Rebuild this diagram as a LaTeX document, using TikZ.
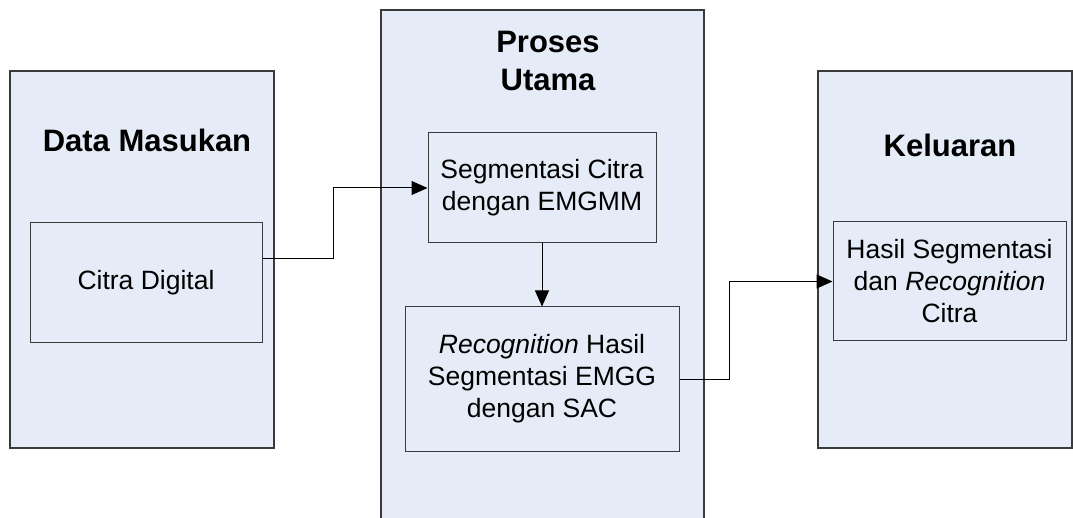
\documentclass[tikz,border=0pt]{standalone}
\usepackage{fontspec}
\setmainfont{Liberation Sans}
\usepackage{xcolor}
\definecolor{birumuda}{HTML}{E6ECF7}
\definecolor{garis}{HTML}{3A3A3A}
\usetikzlibrary{arrows.meta}

\begin{document}
\begin{tikzpicture}[
  x=1pt,y=1pt,
  every node/.style={font=\fontsize{26.5}{32}\selectfont},
  panel/.style={draw=garis,fill=birumuda,line width=1.1pt,inner sep=0pt},
  kotak/.style={draw=garis,fill=birumuda,line width=1pt,align=center,inner sep=0pt},
  judul/.style={font=\fontsize{31}{38}\selectfont\bfseries,align=center,anchor=base},
  panah/.style={-{Triangle[length=16pt,width=14pt]},black,line width=1pt}
]
\useasboundingbox (0,0) rectangle (1073,517);
% tiga panel utama
\node[panel,minimum width=264pt,minimum height=377pt] (masuk) at (142,257.5) {};
\node[panel,minimum width=323pt,minimum height=520pt] (proses) at (542.5,247) {};
\node[panel,minimum width=254pt,minimum height=377pt] (keluar) at (945,257.5) {};
% judul panel (base = baris terakhir)
\node[judul] (tmasuk) at (147,365) {Data Masukan};
\node[judul] (tproses) at (548,426) {Proses\\Utama};
\node[judul] (tkeluar) at (950,360) {Keluaran};
% kotak proses
\node[kotak,minimum width=232pt,minimum height=120pt] (citra) at (146,234) {Citra Digital};
\node[kotak,minimum width=228pt,minimum height=110pt] (segmen) at (542,329) {Segmentasi Citra\\dengan EMGMM};
\node[kotak,minimum width=274pt,minimum height=144pt] (recog) at (542,138) {\textit{Recognition} Hasil\\Segmentasi EMGG\\dengan SAC};
\node[kotak,minimum width=233pt,minimum height=119pt] (hasil) at (949.5,235.5) {Hasil Segmentasi\\dan \textit{Recognition}\\Citra};
% alur
\draw[panah] ([yshift=24pt]citra.east) -- ++(71,0) |- (segmen.west);
\draw[panah] (segmen.south) -- (recog.north);
\draw[panah] (recog.east) -- ++(50,0) |- (hasil.west);
\end{tikzpicture}
\end{document}
